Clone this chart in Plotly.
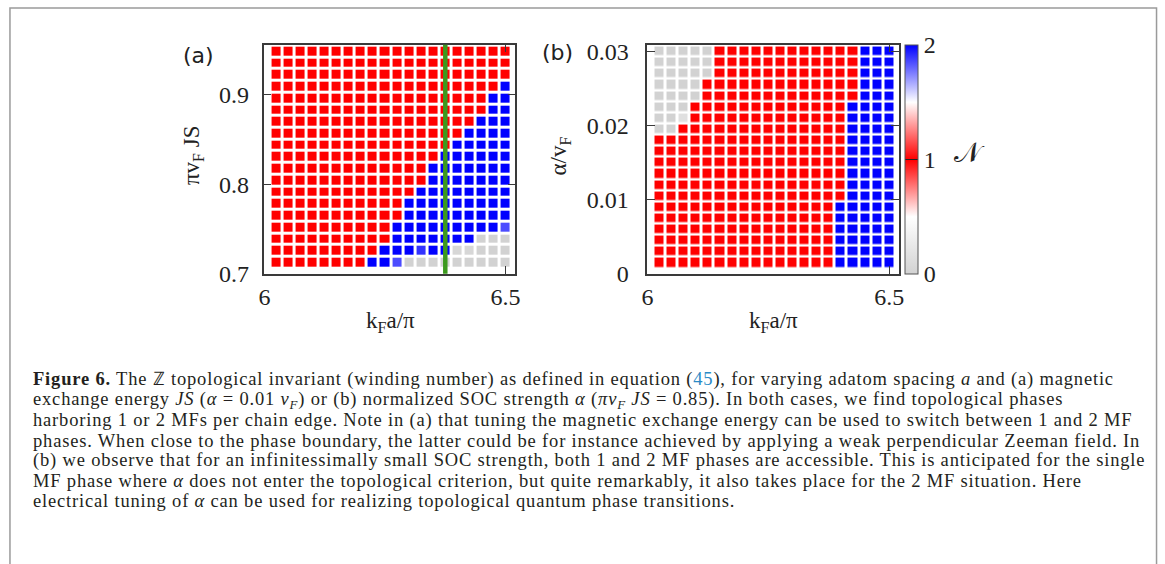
import plotly.graph_objects as go

# ---------------- data ----------------
KF_A = [6.025, 6.05, 6.075, 6.1, 6.125, 6.15, 6.175, 6.2, 6.225, 6.25,
        6.275, 6.3, 6.325, 6.35, 6.375, 6.4, 6.425, 6.45, 6.475, 6.5]
KF_B = [6.025, 6.05, 6.075, 6.1, 6.125, 6.15, 6.175, 6.2, 6.225, 6.25,
        6.275, 6.3, 6.325, 6.35, 6.375, 6.4, 6.425, 6.45, 6.475, 6.5]

# panel (a) rows, listed top -> bottom
JS_TOP_DOWN = [0.9483, 0.9352, 0.9221, 0.9090, 0.8959, 0.8828, 0.8697, 0.8566,
               0.8435, 0.8304, 0.8173, 0.8042, 0.7911, 0.7780, 0.7649, 0.7518,
               0.7387, 0.7256, 0.7125]
Z_A_TOP_DOWN = [
    [1, 1, 1, 1, 1, 1, 1, 1, 1, 1, 1, 1, 1, 1, 1, 1, 1, 1, 1, 1],
    [1, 1, 1, 1, 1, 1, 1, 1, 1, 1, 1, 1, 1, 1, 1, 1, 1, 1, 1, 1],
    [1, 1, 1, 1, 1, 1, 1, 1, 1, 1, 1, 1, 1, 1, 1, 1, 1, 1, 1, 1],
    [1, 1, 1, 1, 1, 1, 1, 1, 1, 1, 1, 1, 1, 1, 1, 1, 1, 1, 1, 2],
    [1, 1, 1, 1, 1, 1, 1, 1, 1, 1, 1, 1, 1, 1, 1, 1, 1, 1, 2, 2],
    [1, 1, 1, 1, 1, 1, 1, 1, 1, 1, 1, 1, 1, 1, 1, 1, 1, 1, 2, 2],
    [1, 1, 1, 1, 1, 1, 1, 1, 1, 1, 1, 1, 1, 1, 1, 1, 1, 2, 2, 2],
    [1, 1, 1, 1, 1, 1, 1, 1, 1, 1, 1, 1, 1, 1, 1, 1, 2, 2, 2, 2],
    [1, 1, 1, 1, 1, 1, 1, 1, 1, 1, 1, 1, 1, 1, 1, 2, 2, 2, 2, 2],
    [1, 1, 1, 1, 1, 1, 1, 1, 1, 1, 1, 1, 1, 1, 2, 2, 2, 2, 2, 2],
    [1, 1, 1, 1, 1, 1, 1, 1, 1, 1, 1, 1, 1, 2, 2, 2, 2, 2, 2, 2],
    [1, 1, 1, 1, 1, 1, 1, 1, 1, 1, 1, 1, 1, 2, 2, 2, 2, 2, 2, 2],
    [1, 1, 1, 1, 1, 1, 1, 1, 1, 1, 1, 1, 2, 2, 2, 2, 2, 2, 2, 2],
    [1, 1, 1, 1, 1, 1, 1, 1, 1, 1, 1, 2, 2, 2, 2, 2, 2, 2, 2, 2],
    [1, 1, 1, 1, 1, 1, 1, 1, 1, 1, 1, 2, 2, 2, 2, 2, 2, 2, 2, 2],
    [1, 1, 1, 1, 1, 1, 1, 1, 1, 1, 2, 2, 2, 2, 2, 2, 2, 2, 2, 1.85],
    [1, 1, 1, 1, 1, 1, 1, 1, 1, 1, 2, 2, 2, 2, 2, 2, 2, 0, 0, 0],
    [1, 1, 1, 1, 1, 1, 1, 1, 1, 2, 2, 2, 1.9, 2, 2, 0.05, 0.05, 0, 0, 0],
    [1, 1, 1, 1, 1, 1, 1, 1, 2, 2, 1.85, 0, 0, 0, 0, 0, 0, 0, 0, 0],
]

# panel (b) rows, listed top -> bottom
ALPHA_TOP_DOWN = [0.03, 0.0285, 0.027, 0.0255, 0.024, 0.0225, 0.021, 0.0195,
                  0.018, 0.0165, 0.015, 0.0135, 0.012, 0.0105, 0.009, 0.0075,
                  0.006, 0.0045, 0.003, 0.0015]
Z_B_TOP_DOWN = [
    [0, 0, 0, 0, 0, 1, 1, 1, 1, 1, 1, 1, 1, 1, 1, 1, 1, 2, 2, 2],
    [0, 0, 0, 0, 0, 1, 1, 1, 1, 1, 1, 1, 1, 1, 1, 1, 1, 2, 2, 2],
    [0, 0, 0, 0, 0, 1, 1, 1, 1, 1, 1, 1, 1, 1, 1, 1, 1, 2, 2, 2],
    [0, 0, 0, 0, 1, 1, 1, 1, 1, 1, 1, 1, 1, 1, 1, 1, 1, 2, 2, 2],
    [0, 0, 0, 0, 1, 1, 1, 1, 1, 1, 1, 1, 1, 1, 1, 1, 1, 2, 2, 2],
    [0, 0, 0, 1, 1, 1, 1, 1, 1, 1, 1, 1, 1, 1, 1, 1, 2, 2, 2, 2],
    [0, 0, 0.15, 1, 1, 1, 1, 1, 1, 1, 1, 1, 1, 1, 1, 1, 2, 2, 2, 2],
    [0, 0, 1, 1, 1, 1, 1, 1, 1, 1, 1, 1, 1, 1, 1, 1, 2, 2, 2, 2],
    [1, 1, 1, 1, 1, 1, 1, 1, 1, 1, 1, 1, 1, 1, 1, 1, 2, 2, 2, 2],
    [1, 1, 1, 1, 1, 1, 1, 1, 1, 1, 1, 1, 1, 1, 1, 1, 2, 2, 2, 2],
    [1, 1, 1, 1, 1, 1, 1, 1, 1, 1, 1, 1, 1, 1, 1, 1, 2, 2, 2, 2],
    [1, 1, 1, 1, 1, 1, 1, 1, 1, 1, 1, 1, 1, 1, 1, 1, 2, 2, 2, 2],
    [1, 1, 1, 1, 1, 1, 1, 1, 1, 1, 1, 1, 1, 1, 1, 1, 2, 2, 2, 2],
    [1, 1, 1, 1, 1, 1, 1, 1, 1, 1, 1, 1, 1, 1, 1, 1, 2, 2, 2, 2],
    [1, 1, 1, 1, 1, 1, 1, 1, 1, 1, 1, 1, 1, 1, 1, 2, 2, 2, 2, 2],
    [1, 1, 1, 1, 1, 1, 1, 1, 1, 1, 1, 1, 1, 1, 1, 2, 2, 2, 2, 2],
    [1, 1, 1, 1, 1, 1, 1, 1, 1, 1, 1, 1, 1, 1, 1, 2, 2, 2, 2, 2],
    [1, 1, 1, 1, 1, 1, 1, 1, 1, 1, 1, 1, 1, 1, 1, 2, 2, 2, 2, 2],
    [1, 1, 1, 1, 1, 1, 1, 1, 1, 1, 1, 1, 1, 1, 1, 2, 2, 2, 2, 2],
    [1, 1, 1, 1, 1, 1, 1, 1, 1, 1, 1, 1, 1, 1, 1, 2, 2, 2, 2, 2],
]

KF_MARK_A = 6.375          # green vertical marker in panel (a)
X_TICKS = [6, 6.5]
X_TICK_TEXT = ["6", "6.5"]
Y_TICKS_A = [0.7, 0.8, 0.9]
Y_TICKS_B = [0, 0.01, 0.02, 0.03]
CBAR_TICKS = [0, 1, 2]

CAPTION_LINES = [
    "<b>Figure 6.</b> The \u2124 topological invariant (winding number) as defined in equation "
    "(<span style='color:#2b8ac6'>45</span>), for varying adatom spacing <i>a</i> and (a) magnetic",
    "exchange energy <i>JS</i> (<i>\u03b1</i> = 0.01 <i>v<sub>F</sub></i>) or (b) normalized SOC strength "
    "<i>\u03b1</i> (<i>\u03c0v<sub>F</sub> JS</i> = 0.85). In both cases, we find topological phases",
    "harboring 1 or 2 MFs per chain edge. Note in (a) that tuning the magnetic exchange energy can be used to switch between 1 and 2 MF",
    "phases. When close to the phase boundary, the latter could be for instance achieved by applying a weak perpendicular Zeeman field. In",
    "(b) we observe that for an infinitessimally small SOC strength, both 1 and 2 MF phases are accessible. This is anticipated for the single",
    "MF phase where <i>\u03b1</i> does not enter the topological criterion, but quite remarkably, it also takes place for the 2 MF situation. Here",
    "electrical tuning of <i>\u03b1</i> can be used for realizing topological quantum phase transitions.",
]

# ---------------- layout helpers ----------------
W, H = 1165, 564


def px(x):
    return x / W


def py(y):
    return 1 - y / H


SERIF = "Liberation Serif"
SANS = "DejaVu Sans"
AXC = "#3a3a3a"

colorscale = [[0.0, "#d2d2d2"], [0.25, "#ffffff"], [0.5, "#ff0000"],
              [0.75, "#ffffff"], [1.0, "#0000ff"]]

fig = go.Figure()
fig.add_trace(go.Heatmap(
    x=KF_A, y=list(reversed(JS_TOP_DOWN)), z=list(reversed(Z_A_TOP_DOWN)),
    coloraxis="coloraxis", xgap=3, ygap=3, xaxis="x", yaxis="y",
    hoverinfo="skip"))
fig.add_trace(go.Heatmap(
    x=KF_B, y=list(reversed(ALPHA_TOP_DOWN)), z=list(reversed(Z_B_TOP_DOWN)),
    coloraxis="coloraxis", xgap=3, ygap=2.5, xaxis="x2", yaxis="y2",
    hoverinfo="skip"))

axis_common = dict(showline=True, linecolor=AXC, linewidth=1.5, mirror="ticks",
                   ticks="inside", ticklen=8, tickwidth=1.2, tickcolor=AXC,
                   showgrid=False, zeroline=False,
                   tickfont=dict(family=SERIF, size=24, color="#222"))

fig.update_layout(
    width=W, height=H, margin=dict(l=0, r=0, t=0, b=0),
    paper_bgcolor="white", plot_bgcolor="white", showlegend=False,
    xaxis=dict(domain=[px(260), px(514.3)], range=[5.998, 6.5205], anchor="y",
               tickvals=X_TICKS, ticktext=X_TICK_TEXT, ticklabelstandoff=1, **axis_common),
    yaxis=dict(domain=[py(277), py(40)], range=[0.7, 0.956], anchor="x",
               tickvals=Y_TICKS_A, ticklabelstandoff=8, **axis_common),
    xaxis2=dict(domain=[px(647.3), px(901.7)], range=[5.9995, 6.5205], anchor="y2",
                tickvals=X_TICKS, ticktext=X_TICK_TEXT, ticklabelstandoff=1, **axis_common),
    yaxis2=dict(domain=[py(277), py(40)], range=[0, 0.03087], anchor="x2",
                tickvals=Y_TICKS_B, ticklabelstandoff=12, **axis_common),
    coloraxis=dict(
        cmin=0, cmax=2, colorscale=colorscale,
        colorbar=dict(thickness=13, thicknessmode="pixels",
                      len=237 / H, lenmode="fraction",
                      x=px(907.7), xanchor="left", y=py(158.5), yanchor="middle",
                      xpad=0, ypad=0, outlinewidth=1, outlinecolor="#555",
                      tickvals=CBAR_TICKS, ticks="inside", ticklen=13,
                      tickcolor="#222", tickwidth=1,
                      tickfont=dict(family=SERIF, size=24, color="#222")),
    ),
)

# green marker line in (a)
fig.add_shape(type="line", xref="x", yref="y domain", x0=KF_MARK_A, x1=KF_MARK_A,
              y0=0, y1=1, line=dict(color="#3c9a1e", width=4.5))

# outer frame of the page
fig.add_shape(type="rect", xref="paper", yref="paper", x0=px(4), x1=px(1161.5),
              y0=-0.05, y1=py(2), line=dict(color="#9a9a9a", width=1.5))

ann = []
# panel labels
ann.append(dict(text="(a)", x=px(194), y=py(51), font=dict(family=SANS, size=22, color="#222")))
ann.append(dict(text="(b)", x=px(557), y=py(48), font=dict(family=SANS, size=22, color="#222")))
# axis titles
ann.append(dict(text="k<sub>F</sub>a/\u03c0", x=px(388), y=py(327),
                font=dict(family=SERIF, size=23, color="#222")))
ann.append(dict(text="k<sub>F</sub>a/\u03c0", x=px(775), y=py(327),
                font=dict(family=SERIF, size=23, color="#222")))
ann.append(dict(text="\u03c0v<sub>F</sub> JS", x=px(189), y=py(154), textangle=-90,
                font=dict(family=SERIF, size=23, color="#222")))
ann.append(dict(text="\u03b1/v<sub>F</sub>", x=px(559), y=py(155), textangle=-90,
                font=dict(family=SERIF, size=23, color="#222")))
# colorbar label
ann.append(dict(text="\U0001D4A9", x=px(973), y=py(152),
                font=dict(family="DejaVu Sans", size=28, color="#222")))

for a in ann:
    a.update(xref="paper", yref="paper", showarrow=False, xanchor="center", yanchor="middle")

caption_y = [387, 408, 429, 449.8, 470.6, 491.4, 512.2]
for line, yy in zip(CAPTION_LINES, caption_y):
    ann.append(dict(text="<span style='letter-spacing:0.82px'>" + line + "</span>",
                    x=px(33), y=py(yy), xref="paper", yref="paper", xshift=-8,
                    xanchor="left", yanchor="middle", showarrow=False, align="left",
                    font=dict(family=SERIF, size=18.5, color="#231f20")))

fig.update_layout(annotations=ann)
fig.write_html(
    "out.html",
    config={"displayModeBar": False},
    post_script="document.body.style.margin='0px';document.body.style.padding='0px';"
                "document.body.style.overflow='hidden';",
)
